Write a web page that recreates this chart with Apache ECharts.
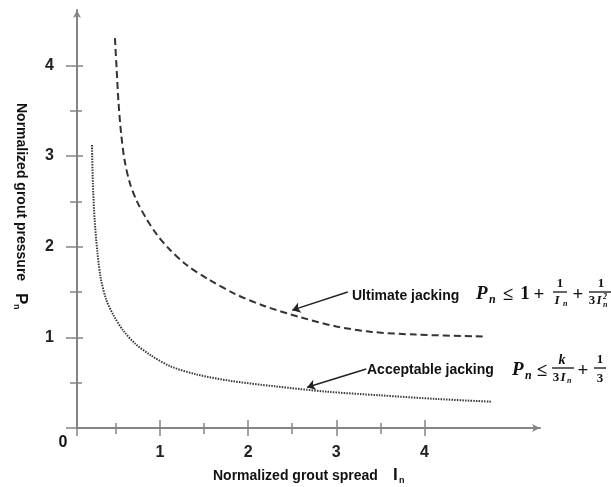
<!DOCTYPE html>
<html><head><meta charset="utf-8">
<script src="https://cdn.jsdelivr.net/npm/echarts@6/dist/echarts.min.js"></script>
<style>html,body{margin:0;padding:0;background:#fff}#c{width:611px;height:487px}</style>
</head><body><div id="c"></div>
<script>
// ---- data ----
const xMajor = [1, 2, 3, 4];
const xMinor = [0.5, 1.5, 2.5, 3.5];
const yMajor = [1, 2, 3, 4];
const yMinor = [0.5, 1.5, 2.5, 3.5];

const ultimateI = [0.49, 0.51, 0.53, 0.56, 0.60, 0.66, 0.74, 0.84, 0.96, 1.10, 1.30, 1.55, 1.85, 2.20, 2.60, 3.00, 3.40, 3.90, 4.66];
const ultimateP = [4.30, 3.95, 3.60, 3.25, 2.95, 2.70, 2.50, 2.32, 2.14, 1.98, 1.80, 1.64, 1.48, 1.34, 1.22, 1.12, 1.06, 1.03, 1.01];

const acceptableI = [0.23, 0.24, 0.26, 0.29, 0.33, 0.39, 0.47, 0.58, 0.72, 0.90, 1.12, 1.42, 1.80, 2.30, 2.90, 3.50, 4.14, 4.76];
const acceptableP = [3.12, 2.70, 2.30, 1.95, 1.65, 1.42, 1.25, 1.08, 0.93, 0.80, 0.68, 0.59, 0.52, 0.46, 0.40, 0.36, 0.32, 0.29];

const arrowUltimate = [[3.13, 1.50], [2.50, 1.30]];
const arrowAcceptable = [[3.34, 0.65], [2.67, 0.45]];

// ---- chart ----
const X_MIN = 0.06, X_MAX = 5.31, Y_MIN = 0, Y_MAX = 4.61;
const AX = '#858585';
const SANS = '"Liberation Sans", Arial, sans-serif';
const SERIF = '"Liberation Serif", "DejaVu Serif", serif';

function xAx(ticks, len, inside, main) {
  return {
    type: 'value', min: X_MIN, max: X_MAX, position: 'bottom',
    axisLine: main ? { show: true, onZero: false, symbol: ['none', 'arrow'], symbolSize: [6, 8], lineStyle: { color: AX, width: 2 } } : { show: false },
    axisTick: { show: true, inside: inside, length: len, customValues: ticks, lineStyle: { color: AX, width: 1.5 } },
    axisLabel: main ? { show: true, customValues: xMajor, margin: 17, fontSize: 16, fontWeight: 'bold', color: '#222', fontFamily: SANS } : { show: false },
    splitLine: { show: false }
  };
}
function yAx(ticks, len, inside, main) {
  return {
    type: 'value', min: Y_MIN, max: Y_MAX, position: 'left',
    axisLine: main ? { show: true, onZero: false, symbol: ['none', 'arrow'], symbolSize: [6, 8], lineStyle: { color: AX, width: 2 } } : { show: false },
    axisTick: { show: true, inside: inside, length: len, customValues: ticks, lineStyle: { color: AX, width: 1.5 } },
    axisLabel: main ? { show: true, customValues: yMajor, margin: 23, fontSize: 16, fontWeight: 'bold', color: '#222', fontFamily: SANS } : { show: false },
    splitLine: { show: false }
  };
}

function zip(a, b) { return a.map((v, i) => [v, b[i]]); }

function txt(text, x, y, font, align) {
  return { type: 'text', x: x, y: y, silent: true,
    style: { text: text, font: font, fill: '#111', align: align || 'center', verticalAlign: 'middle' } };
}
function bar(x1, x2, y) {
  return { type: 'line', silent: true, shape: { x1: x1, y1: y, x2: x2, y2: y }, style: { stroke: '#111', lineWidth: 1.3 } };
}

const fBig = 'italic bold 19px ' + SERIF;
const fUp = 'bold 19px ' + SERIF;
const fSm = 'bold 13px ' + SERIF;
const fSmI = 'italic bold 13px ' + SERIF;
const fSub = 'italic bold 12px ' + SERIF;
const fTiny = 'italic bold 8px ' + SERIF;

const graphics = [
  txt('0', 63, 443, 'bold 16px ' + SANS),
  // x-axis title
  txt('Normalized grout spread', 213, 476, 'bold 14px ' + SANS, 'left'),
  txt('I', 393, 475, 'bold 17px ' + SANS, 'left'),
  txt('n', 399, 481, 'bold 9px ' + SANS, 'left'),
  // y-axis title (rotated)
  { type: 'group', x: 21, y: 103, rotation: -Math.PI / 2, children: [
    txt('Normalized grout pressure', 0, 0, 'bold 14px ' + SANS, 'left'),
    txt('P', 190, 0, 'bold 17px ' + SANS, 'left'),
    txt('n', 201, 5, 'bold 9px ' + SANS, 'left')
  ]},
  // annotations
  txt('Ultimate jacking', 352, 296, 'bold 14px ' + SANS, 'left'),
  txt('Acceptable jacking', 367, 370, 'bold 14px ' + SANS, 'left'),
  // formula 1
  txt('P', 476, 294, fBig, 'left'),
  txt('n', 489, 300, fSub, 'left'),
  txt('\u2264', 508, 295, fUp),
  txt('1', 525, 294, fUp),
  txt('+', 539, 295, fUp),
  txt('1', 560, 284, fSm),
  bar(553, 567, 292),
  txt('I', 557, 301, fSmI),
  txt('n', 563, 304, fTiny, 'left'),
  txt('+', 578, 295, fUp),
  txt('1', 601, 284, fSm),
  bar(589, 612, 292),
  txt('3', 592, 301, fSm),
  txt('I', 599, 301, fSmI),
  txt('2', 603, 297, fTiny, 'left'),
  txt('n', 603, 305, fTiny, 'left'),
  // formula 2
  txt('P', 512, 370, fBig, 'left'),
  txt('n', 525, 376, fSub, 'left'),
  txt('\u2264', 542, 371, fUp),
  txt('k', 562, 360, 'italic bold 14px ' + SERIF),
  bar(552, 574, 368),
  txt('3', 556, 378, fSm),
  txt('I', 563, 378, fSmI),
  txt('n', 567, 381, fTiny, 'left'),
  txt('+', 583, 371, fUp),
  txt('1', 600, 360, fSm),
  bar(594, 606, 368),
  txt('3', 600, 379, fSm)
];

const chart = echarts.init(document.getElementById('c'), null, { renderer: 'canvas' });
chart.setOption({
  animation: false,
  backgroundColor: '#fff',
  grid: { left: 77, right: 71, top: 10, bottom: 59, containLabel: false },
  xAxis: [
    xAx([X_MIN].concat(xMajor), 8, false, true),
    xAx(xMajor, 8, true, false),
    xAx(xMinor, 6, false, false),
    xAx(xMinor, 5, true, false)
  ],
  yAxis: [
    yAx([0].concat(yMajor), 11, false, true),
    yAx(yMajor, 6, true, false),
    yAx(yMinor, 7, false, false),
    yAx(yMinor, 5, true, false)
  ],
  series: [
    {
      name: 'Ultimate jacking', type: 'line', xAxisIndex: 0, yAxisIndex: 0,
      data: zip(ultimateI, ultimateP), showSymbol: false, smooth: 0.3,
      lineStyle: { color: '#333', width: 2, type: [7, 4] },
      markLine: {
        silent: true, symbol: ['none', 'arrow'], symbolSize: 8,
        label: { show: false },
        lineStyle: { color: '#222', width: 1.5, type: 'solid' },
        data: [
          [{ coord: arrowUltimate[0] }, { coord: arrowUltimate[1] }],
          [{ coord: arrowAcceptable[0] }, { coord: arrowAcceptable[1] }]
        ]
      }
    },
    {
      name: 'Acceptable jacking', type: 'line', xAxisIndex: 0, yAxisIndex: 0,
      data: zip(acceptableI, acceptableP), showSymbol: false, smooth: 0.3,
      lineStyle: { color: '#3a3a3a', width: 2, type: [1.5, 1.2] }
    }
  ],
  graphic: graphics
});
</script>
</body></html>
